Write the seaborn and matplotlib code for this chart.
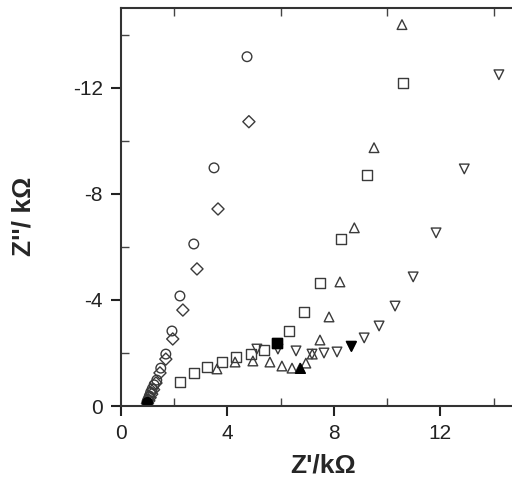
import numpy as np
import pandas as pd
import matplotlib
matplotlib.use("Agg")
import matplotlib.pyplot as plt
import seaborn as sns

# data (Z' in kOhm, Z'' in kOhm, negative up)
circle_x = [0.98, 1.02, 1.07, 1.12, 1.18, 1.25, 1.35, 1.50, 1.69, 1.92, 2.22, 2.74, 3.50, 4.74]
circle_y = [-0.15, -0.25, -0.38, -0.52, -0.65, -0.80, -0.98, -1.43, -1.96, -2.83, -4.15, -6.11, -8.98, -13.17]
diamond_x = [1.00, 1.05, 1.10, 1.16, 1.23, 1.32, 1.47, 1.69, 1.95, 2.33, 2.86, 3.65, 4.81]
diamond_y = [-0.10, -0.20, -0.32, -0.45, -0.62, -0.87, -1.25, -1.77, -2.53, -3.62, -5.17, -7.43, -10.72]
square_x = [2.22, 2.74, 3.23, 3.80, 4.32, 4.89, 5.38, 5.86, 6.32, 6.88, 7.48, 8.27, 9.25, 10.60]
square_y = [-0.91, -1.25, -1.47, -1.66, -1.85, -1.96, -2.11, -2.38, -2.83, -3.55, -4.64, -6.30, -8.72, -12.19]
tri_up_x = [3.61, 4.29, 4.96, 5.60, 6.05, 6.43, 6.73, 6.95, 7.19, 7.48, 7.82, 8.23, 8.77, 9.51, 10.56]
tri_up_y = [-1.40, -1.66, -1.70, -1.66, -1.51, -1.43, -1.43, -1.62, -1.96, -2.49, -3.36, -4.68, -6.72, -9.74, -14.38]
tri_dn_x = [5.11, 5.90, 6.58, 7.18, 7.63, 8.12, 8.65, 9.14, 9.70, 10.30, 10.98, 11.84, 12.90, 14.20]
tri_dn_y = [-2.15, -2.15, -2.08, -1.96, -2.00, -2.04, -2.26, -2.57, -3.02, -3.77, -4.87, -6.53, -8.94, -12.49]

# filled points (one per series)
filled_x = [0.98, 5.86, 6.73, 8.65]
filled_y = [-0.15, -2.38, -1.43, -2.26]
filled_m = ["o", "s", "^", "v"]

series = [
    (circle_x, circle_y, "o"),
    (diamond_x, diamond_y, "D"),
    (square_x, square_y, "s"),
    (tri_up_x, tri_up_y, "^"),
    (tri_dn_x, tri_dn_y, "v"),
]

sns.set_style("ticks")
plt.rcParams["font.family"] = ["Liberation Sans", "DejaVu Sans"]

fig = plt.figure(figsize=(5.12, 4.8), dpi=100)
ax = fig.add_axes([0.236, 0.154, 0.78, 0.829])

edge = "#3a3a3a"
for xs, ys, m in series:
    size = 38 if m == "D" else 48
    sns.scatterplot(x=xs, y=ys, marker=m, s=size, facecolor="none",
                    edgecolor=edge, linewidth=1.0, ax=ax)

for x, y, m in zip(filled_x, filled_y, filled_m):
    sns.scatterplot(x=[x], y=[y], marker=m, s=48, color="black",
                    edgecolor="black", linewidth=1.0, ax=ax)

ax.set_xlim(0, 15)
ax.set_ylim(0, -15)
ax.set_xticks([0, 4, 8, 12])
ax.set_xticks([2, 6, 10, 14], minor=True)
ax.set_yticks([0, -4, -8, -12])
ax.set_yticks([-2, -6, -10, -14], minor=True)
ax.set_yticklabels(["0", "-4", "-8", "-12"])

ax.tick_params(which="major", direction="out", length=7, width=1.5,
               labelsize=15, pad=6, colors="#222222", top=False, right=False)
ax.tick_params(which="minor", direction="in", length=6, width=1.0,
               top=True, right=True, bottom=True, left=True, color="#444444")
for sp in ax.spines.values():
    sp.set_linewidth(1.5)
    sp.set_color("#333333")

ax.set_xlabel("Z'/kΩ", fontsize=19, fontweight="bold")
ax.set_ylabel("Z''/ kΩ", fontsize=19, fontweight="bold")
ax.xaxis.set_label_coords(0.506, -0.118)
ax.yaxis.set_label_coords(-0.213, 0.477)

fig.savefig("out.png", dpi=100)
